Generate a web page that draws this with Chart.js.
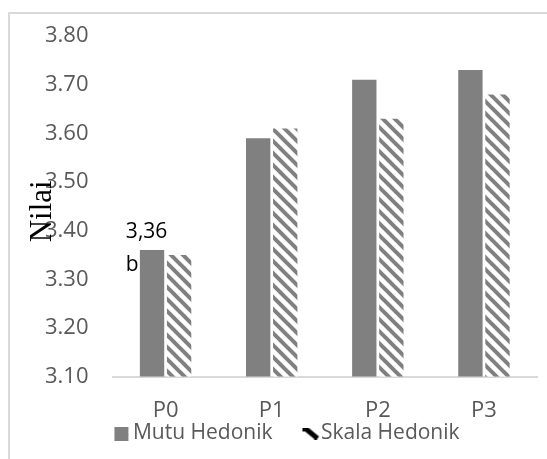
<!DOCTYPE html>
<html>
<head>
<meta charset="utf-8">
<script src="https://cdn.jsdelivr.net/npm/chart.js@4"></script>
<style>
  html, body { margin: 0; padding: 0; background: #fff; }
  #wrap { position: relative; width: 547px; height: 459px; overflow: hidden; }
  #cornice { position: absolute; left: 8px; top: 12px; width: 545px; height: 452px;
             border-top: 2px solid #d9d9d9; border-left: 2px solid #d9d9d9; }
  canvas { position: absolute; left: 0; top: 0; }
</style>
</head>
<body>
<div id="wrap">
  <div id="cornice"></div>
  <canvas id="grafico" width="547" height="459"></canvas>
</div>
<script>
// === DATI ===
const categorie = ['P0', 'P1', 'P2', 'P3'];
const mutuHedonik = [3.36, 3.59, 3.71, 3.73];
const skalaHedonik = [3.35, 3.61, 3.63, 3.68];
const tickY = [3.10, 3.20, 3.30, 3.40, 3.50, 3.60, 3.70, 3.80];
const etichettaP0 = ['3,36', 'b'];

const GRIGIO = '#808080';
const TESTO = '#595959';
const FONT_LEG = 21;
const BOX = 34;
const SPOSTA_LEG = -9;

// tratteggio diagonale "\"
function creaTratteggio() {
  const s = 12;
  const c = document.createElement('canvas');
  c.width = s; c.height = s;
  const g = c.getContext('2d');
  g.fillStyle = '#fff';
  g.fillRect(0, 0, s, s);
  g.strokeStyle = GRIGIO;
  g.lineWidth = 4;
  [-s, 0, s].forEach(k => {
    g.beginPath();
    g.moveTo(-2, k - 2);
    g.lineTo(s + 2, s + k + 2);
    g.stroke();
  });
  return g.createPattern(c, 'repeat');
}

// icone legenda: canvas largo, simbolo spinto a destra vicino al testo
function iconaLegenda(w, h, gap, disegna) {
  const W = 2 * BOX + FONT_LEG + 1;
  const c = document.createElement('canvas');
  c.width = W; c.height = h;
  const g = c.getContext('2d');
  const x0 = BOX / 2 + FONT_LEG / 2 + W / 2 - gap - w;
  disegna(g, Math.round(x0));
  return c;
}
function iconaPiena() {
  return iconaLegenda(14, 14, 5, (g, x) => {
    g.fillStyle = GRIGIO;
    g.fillRect(x, 0, 14, 14);
  });
}
function iconaTratteggio() {
  return iconaLegenda(16, 12, 3, (g, x) => {
    g.strokeStyle = '#000';
    g.lineWidth = 5;
    g.beginPath();
    g.moveTo(x + 3, 1);
    g.lineTo(x + 15, 11);
    g.stroke();
    g.fillStyle = '#000';
    g.fillRect(x, 0, 4, 4);
  });
}

const tratteggio = creaTratteggio();

// titolo asse Y sovrapposto alle etichette
const titoloY = {
  id: 'titoloY',
  afterDraw(chart) {
    const { ctx, chartArea } = chart;
    ctx.save();
    ctx.translate(chartArea.left - 70, (chartArea.top + chartArea.bottom) / 2 + 5);
    ctx.rotate(-Math.PI / 2);
    ctx.font = '31px "Liberation Serif", "Times New Roman", serif';
    ctx.fillStyle = '#000';
    ctx.textAlign = 'center';
    ctx.textBaseline = 'middle';
    ctx.fillText('Nilai', 0, 0);
    ctx.restore();
  }
};

// etichetta sopra la barra P0
const etichetta = {
  id: 'etichetta',
  afterDatasetsDraw(chart) {
    const bar = chart.getDatasetMeta(0).data[0];
    if (!bar) return;
    const { ctx } = chart;
    const sx = bar.x - bar.width / 2 - 14;
    ctx.save();
    ctx.font = '21px "Open Sans", sans-serif';
    ctx.fillStyle = '#000';
    ctx.textAlign = 'left';
    ctx.textBaseline = 'middle';
    ctx.fillText(etichettaP0[0], sx, bar.y - 18);
    ctx.fillText(etichettaP0[1], sx, bar.y + 15);
    ctx.restore();
  }
};

// sposta la legenda in orizzontale
const spostaLegenda = {
  id: 'spostaLegenda',
  afterLayout(chart) {
    if (!chart.legend) return;
    chart.legend.left += SPOSTA_LEG;
    chart.legend.right += SPOSTA_LEG;
  }
};

Chart.defaults.font.family = '"Open Sans", sans-serif';
Chart.defaults.color = TESTO;

new Chart(document.getElementById('grafico'), {
  type: 'bar',
  data: {
    labels: categorie,
    datasets: [
      { label: 'Mutu Hedonik', data: mutuHedonik, backgroundColor: GRIGIO,
        barPercentage: 0.9, categoryPercentage: 0.51 },
      { label: 'Skala Hedonik', data: skalaHedonik, backgroundColor: tratteggio,
        barPercentage: 0.9, categoryPercentage: 0.51 }
    ]
  },
  options: {
    responsive: false,
    animation: false,
    layout: { padding: { left: 29, right: 10, top: 36, bottom: 5 } },
    scales: {
      x: {
        grid: { display: false },
        border: { color: '#d9d9d9', width: 2 },
        ticks: { font: { size: 22 }, padding: 13, color: TESTO },
        afterFit: s => { s.height -= 18; }
      },
      y: {
        min: 3.10,
        max: 3.80,
        grid: { display: false },
        border: { display: false },
        afterBuildTicks: scale => { scale.ticks = tickY.map(v => ({ value: v })); },
        ticks: {
          font: { size: 22 },
          padding: 16,
          color: TESTO,
          callback: v => Number(v).toFixed(2)
        }
      }
    },
    plugins: {
      tooltip: { enabled: false },
      legend: {
        position: 'bottom',
        labels: {
          usePointStyle: true,
          pointStyleWidth: BOX,
          boxWidth: BOX,
          boxHeight: 14,
          padding: 4,
          font: { size: FONT_LEG },
          color: TESTO,
          generateLabels: () => [
            { text: 'Mutu Hedonik', pointStyle: iconaPiena(), fillStyle: GRIGIO,
              strokeStyle: 'transparent', lineWidth: 0, datasetIndex: 0, fontColor: TESTO },
            { text: 'Skala Hedonik', pointStyle: iconaTratteggio(), fillStyle: '#000',
              strokeStyle: 'transparent', lineWidth: 0, datasetIndex: 1, fontColor: TESTO }
          ]
        }
      }
    }
  },
  plugins: [titoloY, etichetta, spostaLegenda]
});
</script>
</body>
</html>
